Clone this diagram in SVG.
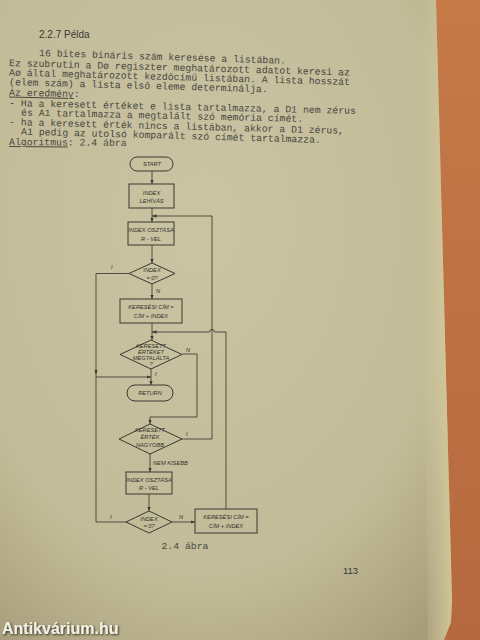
<svg xmlns="http://www.w3.org/2000/svg" width="480" height="640" viewBox="0 0 480 640">
<defs>
<radialGradient id="vig" cx="0.45" cy="0.35" r="0.8">
<stop offset="0" stop-color="#cac4a3"/>
<stop offset="0.7" stop-color="#c2bb98"/>
<stop offset="1" stop-color="#a89d7a"/>
</radialGradient>
<linearGradient id="edge" x1="0" y1="0" x2="1" y2="0">
<stop offset="0" stop-color="#cfc7a0" stop-opacity="0"/>
<stop offset="1" stop-color="#dccf9c"/>
</linearGradient>
<linearGradient id="wood" x1="0" y1="0" x2="0" y2="1">
<stop offset="0" stop-color="#c67a48"/>
<stop offset="1" stop-color="#b5693e"/>
</linearGradient>
<marker id="ah" viewBox="0 0 10 10" refX="10" refY="5" markerWidth="4.5" markerHeight="4.5" orient="auto" markerUnits="userSpaceOnUse">
<path d="M0,1 L10,5 L0,9 z" fill="#3a3932"/>
</marker>
<filter id="sh" x="-10%" y="-40%" width="120%" height="180%">
<feDropShadow dx="1" dy="1" stdDeviation="1.2" flood-color="#1e1a10" flood-opacity="0.9"/>
</filter>
</defs>
<style>
.tw{font-family:"Liberation Mono","DejaVu Sans Mono",monospace;font-size:9.8px;fill:#4a483f}
.hd{font-family:"Liberation Sans",Arial,sans-serif;font-size:10px;fill:#3a3933}
.n{fill:none;stroke:#3a3932;stroke-width:1}
.ft{font-family:"Liberation Sans",Arial,sans-serif;font-size:5.7px;font-style:italic;fill:#34332c;text-anchor:middle}
.lb{font-family:"Liberation Sans",Arial,sans-serif;font-size:5.7px;font-style:italic;fill:#34332c}
.c{fill:none;stroke:#3a3932;stroke-width:0.85}
.pn{font-family:"Liberation Sans",Arial,sans-serif;font-size:9.5px;fill:#3a3933}
</style>

<!-- background -->
<rect x="0" y="0" width="480" height="640" fill="url(#wood)"/>
<polygon points="0,0 436,0 452,600 451,622 444,640 0,640" fill="url(#vig)"/>
<polygon points="420,0 436,0 452,600 451,622 444,640 428,640" fill="url(#edge)" opacity="0.8"/>

<!-- page text -->
<g id="text">
<text class="hd" x="39" y="38">2.2.7 Példa</text>
<text class="tw" x="39" y="56" transform="rotate(1.8 39 56)">16 bites bináris szám keresése a listában.</text>
<text class="tw" x="9" y="66" transform="rotate(1.6 9 66)">Ez szubrutin a Dø regiszter meghatározott adatot keresi az</text>
<text class="tw" x="9" y="75.5" transform="rotate(1.6 9 75.5)">Aø által meghatározott kezdőcímű listában. A lista hosszát</text>
<text class="tw" x="9" y="85" transform="rotate(1.6 9 85)">(elem szám) a lista első eleme determinálja.</text>
<text class="tw" x="9" y="95.5" transform="rotate(1.4 9 95.5)"><tspan text-decoration="underline">Az eredmény</tspan>:</text>
<text class="tw" x="9" y="106" transform="rotate(1.3 9 106)">- Ha a keresett értéket e lista tartalmazza, a D1 nem zérus</text>
<text class="tw" x="21" y="115.5" transform="rotate(1.3 21 115.5)">és A1 tartalmazza a megtalált szó memória címét.</text>
<text class="tw" x="9" y="125" transform="rotate(1.5 9 125)">- ha a keresett érték nincs a listában, akkor a D1 zérus,</text>
<text class="tw" x="21" y="134.5" transform="rotate(1.6 21 134.5)">A1 pedig az utolsó komparált szó címét tartalmazza.</text>
<text class="tw" x="9" y="145" transform="rotate(0.5 9 145)"><tspan text-decoration="underline">Algoritmus</tspan>: 2.4 ábra</text>
<text class="tw" x="185" y="549" text-anchor="middle">2.4 ábra</text>
<text class="pn" x="343" y="574">113</text>
</g>

<!-- connectors -->
<g id="connectors">
<path class="c" d="M152,171 V184" marker-end="url(#ah)"/>
<path class="c" d="M152,208 V222" marker-end="url(#ah)"/>
<path class="c" d="M152,245 V263" marker-end="url(#ah)"/>
<path class="c" d="M152,284 V299" marker-end="url(#ah)"/>
<path class="c" d="M152,323 V340" marker-end="url(#ah)"/>
<path class="c" d="M151,369 V385" marker-end="url(#ah)"/>
<path class="c" d="M182,354 H197 V417 H150 V424" marker-end="url(#ah)"/>
<path class="c" d="M150,454 V472" marker-end="url(#ah)"/>
<path class="c" d="M149,494 V511" marker-end="url(#ah)"/>
<path class="c" d="M172,522 H195" marker-end="url(#ah)"/>
<path class="c" d="M129,273.5 H96 V374" marker-end="url(#ah)"/>
<path class="c" d="M96,373 V377 H151" marker-end="url(#ah)"/>
<path class="c" d="M126,522 H96 V377"/>
<path class="c" d="M182,439 H212 V216 H152" marker-end="url(#ah)"/>
<path class="c" d="M226,509 V332 H214.5 A2.5,2.5 0 0 0 209.5,332 H152" marker-end="url(#ah)"/>
<text class="lb" x="111" y="269">I</text>
<text class="lb" x="156" y="293">N</text>
<text class="lb" x="186" y="352">N</text>
<text class="lb" x="155" y="376">I</text>
<text class="lb" x="186" y="436">I</text>
<text class="lb" x="153" y="465">NEM KISEBB</text>
<text class="lb" x="110" y="519">I</text>
<text class="lb" x="179" y="519">N</text>
</g>

<!-- nodes -->
<g id="start">
<rect class="n" x="130" y="157" width="43" height="14" rx="7"/>
<text class="ft" x="152" y="166">START</text>
</g>
<g id="index-lehivas">
<rect class="n" x="129" y="184" width="45" height="24"/>
<text class="ft" x="151.5" y="195">INDEX</text>
<text class="ft" x="151.5" y="203">LEHÍVÁS</text>
</g>
<g id="index-osztasa-1">
<rect class="n" x="128" y="222" width="46" height="23"/>
<text class="ft" x="151" y="232">INDEX OSZTÁSA</text>
<text class="ft" x="151" y="240.5">R - VEL</text>
</g>
<g id="index-zero-1">
<polygon class="n" points="152,263 175,273.5 152,284 129,273.5"/>
<text class="ft" x="152" y="272">INDEX</text>
<text class="ft" x="152" y="279.5">= 0?</text>
</g>
<g id="keresesi-cim-1">
<rect class="n" x="120" y="299" width="62" height="24"/>
<text class="ft" x="151" y="309">KERESÉSI  CÍM =</text>
<text class="ft" x="151" y="318">CÍM + INDEX</text>
</g>
<g id="megtalalta">
<polygon class="n" points="151,340 182,354.5 151,369 120,354.5"/>
<text class="ft" x="151" y="347.5">KERESETT</text>
<text class="ft" x="151" y="353.5">ÉRTÉKET</text>
<text class="ft" x="151" y="359.5">MEGTALÁLTA</text>
<text class="ft" x="151" y="365.5">?</text>
</g>
<g id="return">
<rect class="n" x="127" y="385" width="46" height="16" rx="8"/>
<text class="ft" x="150" y="395">RETURN</text>
</g>
<g id="nagyobb">
<polygon class="n" points="150,424 182,439 150,454 119,439"/>
<text class="ft" x="150" y="432">KERESETT</text>
<text class="ft" x="150" y="439">ÉRTÉK</text>
<text class="ft" x="150" y="446.5">NAGYOBB</text>
</g>
<g id="index-osztasa-2">
<rect class="n" x="126" y="472" width="46" height="22"/>
<text class="ft" x="149" y="482">INDEX OSZTÁSA</text>
<text class="ft" x="149" y="490">R - VEL</text>
</g>
<g id="index-zero-2">
<polygon class="n" points="149,511 172,522 149,533 126,522"/>
<text class="ft" x="149" y="520.5">INDEX</text>
<text class="ft" x="149" y="528">= 0?</text>
</g>
<g id="keresesi-cim-2">
<rect class="n" x="195" y="509" width="62" height="24"/>
<text class="ft" x="226" y="519">KERESÉSI CÍM =</text>
<text class="ft" x="226" y="528">CÍM + INDEX</text>
</g>

<!-- watermark -->
<text x="2" y="634" font-family="Liberation Sans,Arial,sans-serif" font-weight="bold" font-size="16" fill="#f2efe6" filter="url(#sh)">Antikvárium.hu</text>
</svg>
